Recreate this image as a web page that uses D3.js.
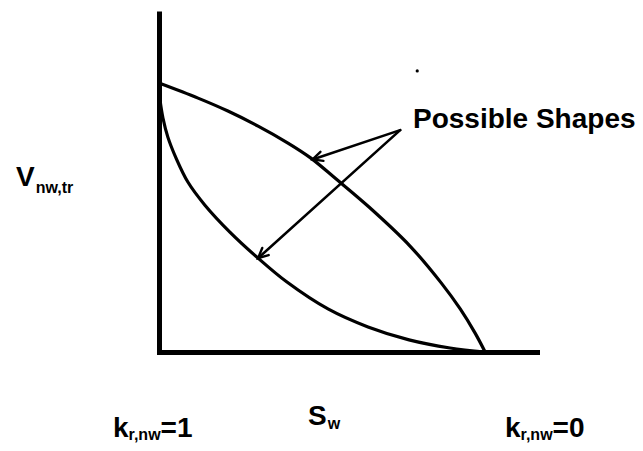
<!DOCTYPE html>
<html><head><meta charset="utf-8">
<script src="https://cdn.jsdelivr.net/npm/d3@7"></script>
<style>
html,body{margin:0;padding:0;background:#fff;}
svg{display:block;}
text{font-family:"Liberation Sans",Arial,Helvetica,sans-serif;font-weight:bold;fill:#000;}
</style>
</head><body>
<svg id="c" width="643" height="451"></svg>
<script>
// ---- data (Sw normalised so that k_r,nw = 0 at Sw = 1; V normalised to 1 at Sw = 0) ----
const upperSw = [0, 0.119, 0.210, 0.302, 0.393, 0.463, 0.540, 0.640, 0.765, 0.860, 0.918, 0.963, 0.994];
const upperV  = [1.0, 0.944, 0.896, 0.840, 0.777, 0.721, 0.643, 0.539, 0.394, 0.257, 0.160, 0.071, 0];
const lowerSw = [0.003, 0.012, 0.027, 0.052, 0.088, 0.140, 0.216, 0.302, 0.390, 0.515, 0.637, 0.762, 0.887, 0.994];
const lowerV  = [0.937, 0.870, 0.799, 0.721, 0.632, 0.546, 0.446, 0.349, 0.260, 0.160, 0.093, 0.045, 0.015, 0];
const arrowFrom = [0.735, 0.825];
const arrowTips = [[0.468, 0.716], [0.302, 0.349]];
const speck = [0.787, 1.045];
const xDomain = [0, 1.152];
const yDomain = [0, 1.268];
const annotation = "Possible Shapes";
const yLabelMain = "V", yLabelSub = "nw,tr";
const xLabelMain = "S", xLabelSub = "w";
const leftLabel = ["k", "r,nw", "=1"];
const rightLabel = ["k", "r,nw", "=0"];

// ---- layout ----
const svg = d3.select("#c");
const x = d3.scaleLinear().domain(xDomain).range([159, 537]);
const y = d3.scaleLinear().domain(yDomain).range([352, 11]);

// axes (no ticks)
const gx = svg.append("g").attr("transform", `translate(0,${y(0)})`)
  .call(d3.axisBottom(x).tickValues([]).tickSizeOuter(0));
gx.select(".domain").attr("stroke", "#000").attr("stroke-width", 5).attr("stroke-linecap", "square");
const gy = svg.append("g").attr("transform", `translate(${x(0)},0)`)
  .call(d3.axisLeft(y).tickValues([]).tickSizeOuter(0));
gy.select(".domain").attr("stroke", "#000").attr("stroke-width", 5);

// curves
const line = d3.line().x(d => x(d[0])).y(d => y(d[1])).curve(d3.curveCatmullRom.alpha(0.5));
const upper = upperSw.map((s, i) => [s, upperV[i]]);
const lower = lowerSw.map((s, i) => [s, lowerV[i]]);
[upper, lower].forEach(pts => {
  svg.append("path").attr("d", line(pts)).attr("fill", "none")
    .attr("stroke", "#000").attr("stroke-width", 3.2).attr("stroke-linejoin", "round");
});

// arrows
arrowTips.forEach(t => {
  const x0 = x(arrowFrom[0]), y0 = y(arrowFrom[1]);
  const x1 = x(t[0]), y1 = y(t[1]);
  svg.append("line").attr("x1", x0).attr("y1", y0).attr("x2", x1).attr("y2", y1)
    .attr("stroke", "#000").attr("stroke-width", 2.6).attr("stroke-linecap", "round");
  const ang = Math.atan2(y1 - y0, x1 - x0);
  const L = 11, a = 0.45;
  const p = [
    [x1 - L * Math.cos(ang - a), y1 - L * Math.sin(ang - a)],
    [x1, y1],
    [x1 - L * Math.cos(ang + a), y1 - L * Math.sin(ang + a)]
  ];
  svg.append("path").attr("d", d3.line()(p)).attr("fill", "none")
    .attr("stroke", "#000").attr("stroke-width", 2.4).attr("stroke-linecap", "round");
});

// speck
svg.append("circle").attr("cx", x(speck[0])).attr("cy", y(speck[1])).attr("r", 1.6).attr("fill", "#000");

// annotation
svg.append("text").attr("x", 413).attr("y", 128).attr("font-size", 28).text(annotation);

// y label
const yl = svg.append("text").attr("x", 16).attr("y", 186).attr("font-size", 28);
yl.append("tspan").text(yLabelMain);
yl.append("tspan").attr("font-size", 16).attr("dy", 7).attr("dx", 1).text(yLabelSub);

// x label
const xl = svg.append("text").attr("x", 308).attr("y", 425).attr("font-size", 28);
xl.append("tspan").text(xLabelMain);
xl.append("tspan").attr("font-size", 16).attr("dy", 4).attr("dx", 1).text(xLabelSub);

// end labels
function endLabel(parts, x0) {
  const t = svg.append("text").attr("x", x0).attr("y", 437).attr("font-size", 28);
  t.append("tspan").text(parts[0]);
  t.append("tspan").attr("font-size", 16).attr("dy", 3).text(parts[1]);
  t.append("tspan").attr("dy", -3).text(parts[2]);
}
endLabel(leftLabel, 113);
endLabel(rightLabel, 505);
</script>
</body></html>
